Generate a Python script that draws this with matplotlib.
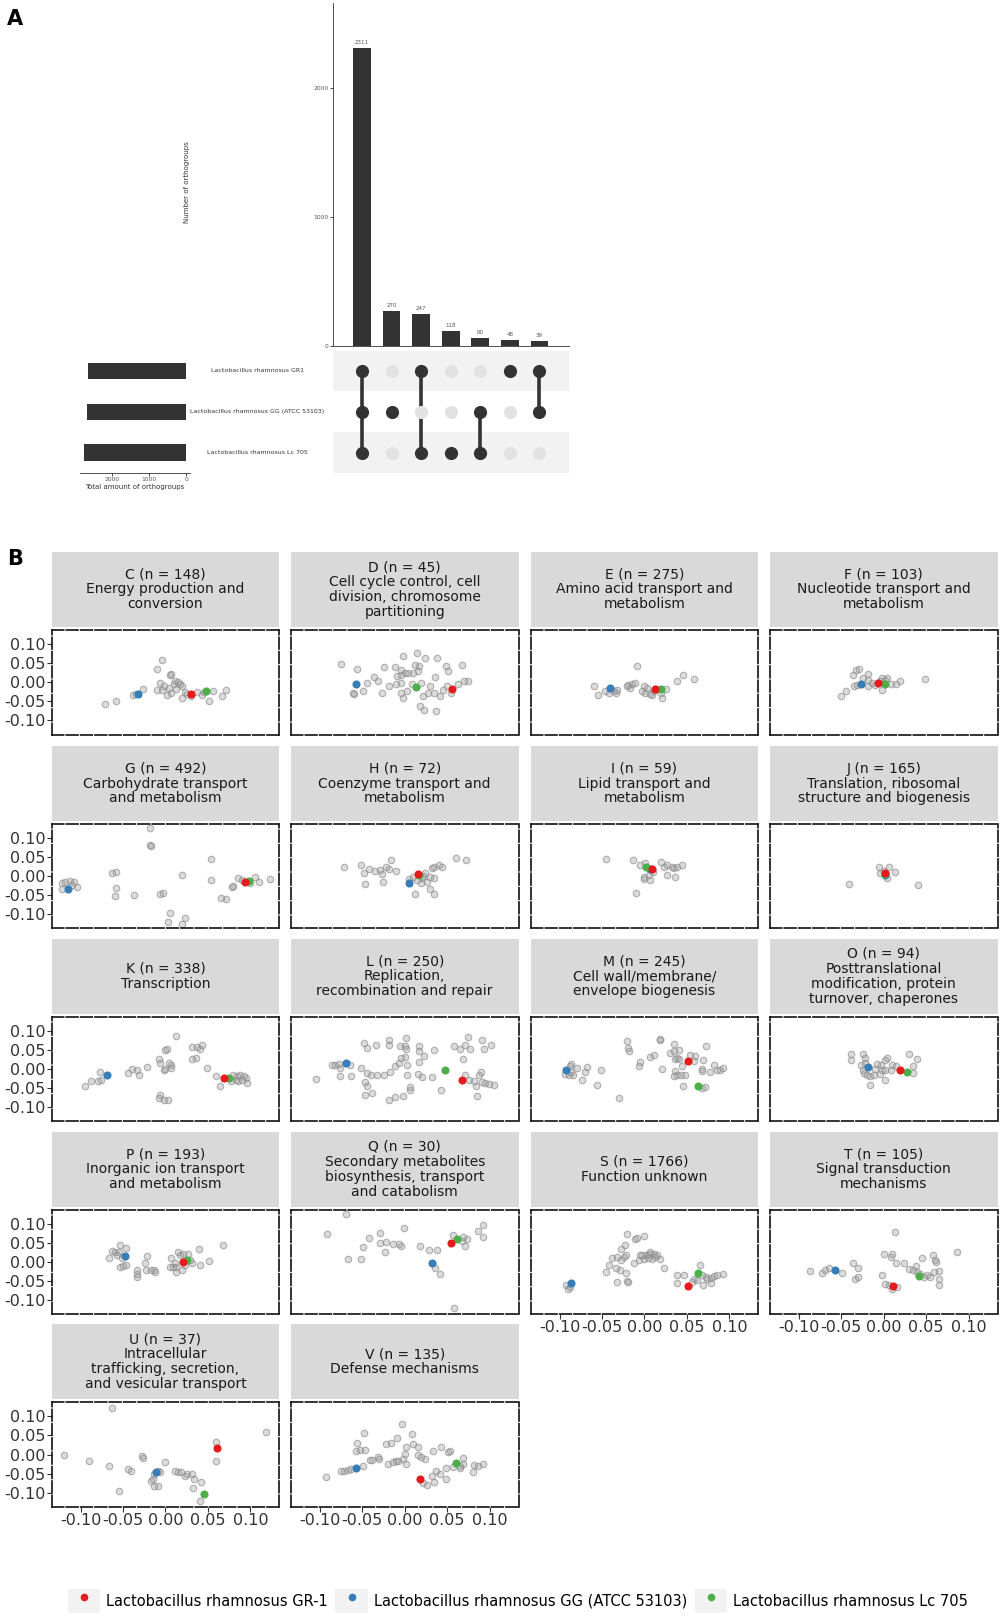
import matplotlib
matplotlib.use('Agg')
import matplotlib.pyplot as plt
from matplotlib.lines import Line2D
from matplotlib.patches import Patch
from matplotlib.legend_handler import HandlerTuple
import numpy as np

plt.rcParams['font.family'] = ['DejaVu Sans']
plt.rcParams['axes.unicode_minus'] = False

W, H = 1000, 1619

# ---------------- panel A : upset data ----------------
inter_counts = [2311, 270, 247, 118, 60, 48, 39]
set_names = ['Lactobacillus rhamnosus GR1',
             'Lactobacillus rhamnosus GG (ATCC 53103)',
             'Lactobacillus rhamnosus Lc 705']
set_sizes = [2645, 2680, 2736]
# membership per intersection column: (GR1, GG, Lc 705)
inter_members = [[1, 1, 1], [0, 1, 0], [1, 0, 1], [0, 0, 1],
                 [0, 1, 1], [1, 0, 0], [1, 1, 0]]
count_ticks = [0, 1000, 2000]
size_ticks = [2000, 1000, 0]

# ---------------- panel B : COG category scatter ----------------
cog_codes = ['C', 'D', 'E', 'F', 'G', 'H', 'I', 'J', 'K', 'L', 'M', 'O',
             'P', 'Q', 'S', 'T', 'U', 'V']
cog_n = [148, 45, 275, 103, 492, 72, 59, 165, 338, 250, 245, 94,
         193, 30, 1766, 105, 37, 135]
cog_desc = ['Energy production and\nconversion',
            'Cell cycle control, cell\ndivision, chromosome\npartitioning',
            'Amino acid transport and\nmetabolism',
            'Nucleotide transport and\nmetabolism',
            'Carbohydrate transport\nand metabolism',
            'Coenzyme transport and\nmetabolism',
            'Lipid transport and\nmetabolism',
            'Translation, ribosomal\nstructure and biogenesis',
            'Transcription',
            'Replication,\nrecombination and repair',
            'Cell wall/membrane/\nenvelope biogenesis',
            'Posttranslational\nmodification, protein\nturnover, chaperones',
            'Inorganic ion transport\nand metabolism',
            'Secondary metabolites\nbiosynthesis, transport\nand catabolism',
            'Function unknown',
            'Signal transduction\nmechanisms',
            'Intracellular\ntrafficking, secretion,\nand vesicular transport',
            'Defense mechanisms']
axis_ticks = [-0.10, -0.05, 0.00, 0.05, 0.10]

gray_C = [(-0.071, -0.056), (-0.058, -0.048), (-0.038, -0.034), (-0.027, -0.019), (-0.035, -0.031),
          (-0.004, 0.058), (-0.010, 0.035), (0.005, 0.019), (0.006, 0.021), (-0.007, -0.001),
          (-0.002, -0.009), (0.011, 0.002), (0.017, -0.004), (0.004, -0.015), (0.007, -0.028),
          (0.013, -0.019), (0.019, -0.010), (-0.004, -0.021), (-0.010, -0.021), (0.023, -0.026),
          (0.002, -0.033), (0.025, -0.030), (0.020, -0.042), (0.037, -0.026), (0.043, -0.033),
          (0.051, -0.050), (0.056, -0.024), (0.067, -0.035), (0.071, -0.021), (0.010, -0.005),
          (0.015, 0.000), (0.030, -0.036), (0.045, -0.025)]
gray_D = [(-0.075, 0.049), (-0.056, 0.036), (-0.061, -0.028), (-0.060, -0.031), (-0.049, -0.022),
          (-0.045, -0.002), (-0.036, 0.013), (-0.031, 0.003), (-0.027, -0.028), (-0.025, 0.040),
          (-0.018, -0.011), (-0.011, 0.040), (-0.005, 0.033), (0.000, 0.025), (-0.009, 0.016),
          (-0.004, 0.020), (0.004, 0.023), (0.010, 0.025), (0.016, 0.029), (0.017, 0.042),
          (0.012, 0.046), (-0.010, -0.004), (-0.005, -0.003), (-0.002, 0.070), (0.015, 0.077),
          (0.024, 0.064), (0.038, 0.064), (-0.004, -0.028), (0.003, -0.024), (-0.002, -0.041),
          (0.019, -0.002), (0.021, -0.037), (0.018, -0.061), (0.023, -0.072), (0.037, -0.076),
          (0.027, -0.028), (0.034, -0.028), (0.036, 0.013), (0.042, -0.037), (0.049, 0.042),
          (0.051, 0.029), (0.063, -0.004), (0.068, 0.044), (0.055, -0.028), (0.050, -0.010),
          (0.070, 0.003), (0.075, 0.002), (0.008, -0.005), (0.030, -0.010), (0.045, -0.020)]
gray_E = [(-0.059, -0.009), (-0.055, -0.034), (-0.046, -0.022), (-0.042, -0.027), (-0.036, -0.024),
          (-0.032, -0.021), (-0.034, -0.028), (-0.019, -0.006), (-0.015, -0.004), (-0.011, -0.003),
          (-0.017, -0.015), (-0.021, -0.010), (-0.009, 0.042), (-0.003, -0.024), (0.001, -0.028),
          (0.007, -0.032), (0.011, -0.024), (0.014, -0.019), (0.003, -0.015), (-0.001, -0.010),
          (0.019, -0.028), (0.025, -0.019), (0.009, -0.034), (0.021, -0.041), (0.038, 0.003),
          (0.046, 0.018), (0.058, 0.009)]
gray_F = [(-0.050, -0.035), (-0.045, -0.024), (-0.035, -0.010), (-0.032, -0.007), (-0.036, 0.018),
          (-0.033, 0.033), (-0.029, 0.036), (-0.025, 0.011), (-0.019, 0.022), (-0.018, 0.007),
          (-0.014, -0.002), (-0.018, -0.010), (-0.010, -0.006), (0.004, 0.011), (0.002, 0.007),
          (-0.002, 0.011), (-0.002, -0.021), (0.008, -0.004), (0.014, -0.004), (0.019, 0.003),
          (0.049, 0.009), (-0.005, 0.004)]
gray_G = [(-0.122, -0.019), (-0.118, -0.014), (-0.112, -0.012), (-0.108, -0.014), (-0.104, -0.027),
          (-0.122, -0.033), (-0.110, -0.023), (-0.018, 0.126), (-0.018, 0.082), (-0.017, 0.080),
          (-0.063, 0.008), (-0.058, 0.010), (-0.058, -0.030), (-0.059, -0.051), (-0.037, -0.049),
          (-0.007, -0.047), (-0.003, -0.045), (0.020, 0.004), (0.005, -0.096), (0.003, -0.119),
          (0.023, -0.110), (0.020, -0.124), (0.054, 0.046), (0.054, -0.011), (0.065, -0.058),
          (0.071, -0.060), (0.078, -0.027), (0.080, -0.025), (0.085, -0.004), (0.106, -0.003),
          (0.110, -0.016), (0.123, -0.007), (0.090, -0.010), (0.100, -0.018)]
gray_H = [(-0.071, 0.025), (-0.051, 0.030), (-0.048, 0.008), (-0.047, -0.020), (-0.042, 0.019),
          (-0.035, 0.015), (-0.029, 0.017), (-0.027, 0.005), (-0.026, -0.014), (-0.022, 0.025),
          (-0.016, 0.043), (-0.018, 0.018), (-0.010, 0.015), (0.010, -0.001), (0.020, -0.005),
          (0.024, 0.008), (0.030, -0.001), (0.034, 0.025), (0.032, 0.021), (0.040, 0.030),
          (0.044, 0.025), (0.026, -0.014), (0.019, -0.018), (0.014, -0.010), (0.034, -0.005),
          (0.012, -0.047), (0.030, -0.033), (0.034, -0.047), (0.060, 0.049), (0.072, 0.043),
          (0.005, -0.008), (0.022, 0.000)]
gray_I = [(-0.045, 0.046), (-0.013, 0.043), (-0.005, 0.030), (0.001, 0.034), (-0.001, -0.001),
          (0.005, 0.004), (0.007, -0.010), (0.000, -0.007), (0.020, 0.037), (0.026, 0.030),
          (0.032, 0.025), (0.038, 0.023), (0.044, 0.030), (0.023, 0.023), (0.035, 0.021),
          (0.026, 0.004), (0.036, -0.001), (-0.010, -0.045), (0.010, 0.010)]
gray_J = [(-0.041, -0.020), (0.040, -0.023), (-0.006, 0.023), (0.006, 0.023), (0.013, 0.011),
          (-0.004, 0.008), (0.004, -0.004), (0.000, 0.015)]
gray_K = [(-0.095, -0.046), (-0.088, -0.032), (-0.080, -0.031), (-0.076, -0.028), (-0.077, -0.009),
          (-0.044, -0.010), (-0.039, 0.000), (-0.034, -0.004), (-0.031, -0.015), (-0.022, 0.005),
          (-0.008, 0.025), (-0.006, 0.016), (-0.002, -0.002), (0.000, -0.001), (0.006, 0.011),
          (0.006, 0.003), (0.004, 0.016), (0.000, 0.049), (0.002, 0.053), (0.013, 0.086),
          (-0.007, -0.068), (-0.008, -0.076), (-0.002, -0.081), (0.003, -0.082), (0.031, 0.058),
          (0.037, 0.058), (0.043, 0.063), (0.041, 0.051), (0.036, 0.029), (0.031, 0.025),
          (0.049, 0.003), (0.059, -0.019), (0.064, -0.044), (0.080, -0.017), (0.084, -0.019),
          (0.088, -0.015), (0.092, -0.019), (0.095, -0.023), (0.083, -0.028), (0.086, -0.032),
          (0.090, -0.028), (0.096, -0.037), (0.077, -0.032)]
gray_L = [(-0.105, -0.026), (-0.086, 0.010), (-0.082, 0.011), (-0.078, 0.014), (-0.076, 0.003),
          (-0.076, -0.019), (-0.065, 0.010), (-0.063, -0.019), (-0.051, 0.003), (-0.045, -0.011),
          (-0.047, -0.033), (-0.045, -0.044), (-0.048, 0.068), (-0.045, 0.055), (-0.034, 0.064),
          (-0.019, 0.077), (-0.019, 0.064), (0.002, 0.081), (-0.006, 0.060), (0.000, 0.060),
          (0.002, 0.051), (-0.040, -0.015), (-0.033, -0.015), (-0.025, -0.015), (-0.017, -0.009),
          (-0.011, 0.007), (-0.007, 0.016), (-0.005, 0.029), (0.000, 0.031), (0.003, 0.011),
          (0.003, -0.015), (-0.047, -0.068), (-0.039, -0.063), (-0.019, -0.082), (-0.011, -0.074),
          (-0.002, -0.070), (0.006, -0.054), (0.006, -0.047), (0.017, 0.061), (0.017, 0.046),
          (0.023, 0.035), (0.034, 0.049), (0.017, 0.018), (0.016, -0.013), (0.020, -0.022),
          (0.032, -0.022), (0.043, -0.054), (0.058, 0.059), (0.065, 0.053), (0.071, 0.064),
          (0.075, 0.084), (0.077, 0.051), (0.091, 0.077), (0.093, 0.051), (0.102, 0.064),
          (0.069, 0.026), (0.071, -0.015), (0.076, -0.028), (0.082, -0.032), (0.084, -0.044),
          (0.088, -0.015), (0.090, -0.009), (0.091, -0.035), (0.095, -0.037), (0.099, -0.039),
          (0.105, -0.041), (0.085, -0.070)]
gray_M = [(-0.094, -0.013), (-0.089, -0.015), (-0.086, -0.009), (-0.084, -0.015), (-0.086, 0.014),
          (-0.080, 0.003), (-0.088, 0.007), (-0.074, -0.028), (-0.070, -0.009), (-0.068, 0.005),
          (-0.056, -0.041), (-0.051, -0.002), (-0.030, -0.077), (-0.021, 0.073), (-0.019, 0.056),
          (-0.018, 0.047), (-0.007, 0.007), (-0.005, 0.018), (0.007, 0.031), (0.011, 0.037),
          (0.018, 0.075), (0.018, 0.079), (0.021, 0.000), (0.030, 0.042), (0.035, 0.047),
          (0.041, 0.049), (0.038, 0.029), (0.036, 0.025), (0.041, 0.025), (0.035, 0.065),
          (0.054, 0.037), (0.059, 0.033), (0.058, 0.020), (0.069, 0.023), (0.073, 0.061),
          (0.068, 0.000), (0.068, -0.006), (0.082, 0.010), (0.086, -0.004), (0.089, -0.002),
          (0.093, 0.003), (0.077, -0.009), (0.036, -0.006), (0.038, -0.015), (0.035, -0.018),
          (0.043, -0.015), (0.048, -0.015), (0.044, 0.007), (0.046, -0.044), (0.068, -0.050),
          (0.071, -0.048)]
gray_O = [(-0.038, 0.040), (-0.039, 0.023), (-0.024, 0.038), (-0.022, 0.029), (-0.027, 0.011),
          (-0.025, -0.002), (-0.023, -0.010), (-0.020, -0.015), (-0.016, -0.019), (-0.012, -0.015),
          (-0.022, 0.015), (-0.016, -0.042), (-0.008, 0.014), (-0.003, 0.011), (0.002, 0.023),
          (0.004, 0.029), (-0.002, -0.002), (0.002, -0.002), (0.010, 0.011), (0.014, 0.007),
          (0.008, -0.002), (0.001, -0.028), (0.030, 0.038), (0.039, 0.026), (0.034, 0.007),
          (0.035, -0.010), (-0.010, 0.000), (-0.005, -0.012)]
gray_P = [(-0.067, 0.011), (-0.063, 0.028), (-0.059, 0.025), (-0.055, 0.026), (-0.053, 0.044),
          (-0.046, 0.037), (-0.057, 0.018), (-0.051, 0.011), (-0.054, -0.013), (-0.050, -0.011),
          (-0.046, -0.009), (-0.034, -0.020), (-0.034, -0.031), (-0.034, -0.039), (-0.022, 0.015),
          (-0.024, -0.004), (-0.023, -0.022), (-0.017, -0.022), (-0.014, -0.022), (-0.012, -0.026),
          (0.007, 0.011), (0.011, -0.004), (0.013, -0.013), (0.015, 0.026), (0.017, 0.018),
          (0.009, -0.013), (0.005, -0.013), (0.013, -0.026), (0.019, -0.022), (0.023, -0.009),
          (0.021, 0.022), (0.027, 0.022), (0.031, -0.004), (0.029, 0.004), (0.039, 0.035),
          (0.041, -0.009), (0.051, 0.003), (0.068, 0.044)]
gray_Q = [(-0.092, 0.072), (-0.069, 0.125), (-0.067, 0.007), (-0.051, 0.007), (-0.049, 0.038),
          (-0.042, 0.063), (-0.029, 0.077), (-0.029, 0.050), (-0.022, 0.053), (-0.014, 0.046),
          (-0.007, 0.046), (-0.004, 0.041), (-0.023, 0.026), (-0.001, 0.089), (0.018, 0.041),
          (0.029, 0.031), (0.038, 0.031), (0.036, -0.016), (0.041, -0.032), (0.057, 0.070),
          (0.069, 0.066), (0.073, 0.061), (0.067, 0.055), (0.071, 0.041), (0.086, 0.082),
          (0.092, 0.096), (0.092, 0.065), (0.058, -0.121)]
gray_S = [(-0.092, -0.060), (-0.090, -0.072), (-0.088, -0.066), (-0.045, -0.026), (-0.042, -0.009),
          (-0.038, 0.010), (-0.032, 0.013), (-0.028, 0.004), (-0.028, 0.033), (-0.023, 0.045),
          (-0.020, 0.074), (-0.033, -0.016), (-0.029, -0.022), (-0.022, -0.029), (-0.032, -0.053),
          (-0.021, -0.049), (-0.019, -0.053), (-0.024, 0.013), (-0.022, 0.018), (-0.011, 0.061),
          (-0.009, 0.063), (-0.001, 0.068), (-0.012, -0.002), (-0.006, 0.004), (-0.003, 0.018),
          (0.002, 0.018), (0.005, 0.022), (0.007, 0.026), (0.011, 0.022), (0.015, 0.019),
          (0.018, 0.009), (0.009, 0.007), (0.013, 0.013), (-0.005, 0.018), (0.000, 0.009),
          (0.004, 0.011), (0.023, -0.016), (0.038, -0.033), (0.038, -0.055), (0.047, -0.035),
          (0.066, -0.007), (0.058, -0.044), (0.062, -0.048), (0.068, -0.035), (0.072, -0.039),
          (0.078, -0.042), (0.082, -0.037), (0.086, -0.035), (0.092, -0.031), (0.069, -0.061),
          (0.078, -0.055), (0.056, -0.053), (0.074, -0.044)]
gray_T = [(-0.087, -0.025), (-0.073, -0.028), (-0.069, -0.022), (-0.065, -0.016), (-0.049, -0.028),
          (-0.036, -0.004), (-0.034, -0.046), (-0.030, -0.039), (-0.030, -0.016), (-0.002, -0.033),
          (0.000, 0.022), (0.010, 0.022), (0.008, 0.013), (0.013, 0.079), (0.015, -0.004),
          (0.024, -0.004), (0.002, -0.057), (0.006, -0.061), (0.010, -0.072), (0.016, -0.066),
          (0.030, -0.018), (0.034, -0.022), (0.038, -0.011), (0.039, -0.026), (0.043, -0.031),
          (0.047, -0.039), (0.051, -0.035), (0.055, -0.039), (0.059, -0.026), (0.045, 0.011),
          (0.058, 0.018), (0.060, 0.004), (0.061, 0.000), (0.065, -0.025), (0.065, -0.046),
          (0.065, -0.061), (0.086, 0.025)]
gray_U = [(-0.119, 0.000), (-0.090, -0.018), (-0.067, -0.029), (-0.063, 0.121), (-0.055, -0.095),
          (-0.044, -0.038), (-0.041, -0.044), (-0.028, -0.004), (-0.026, -0.009), (-0.017, -0.070),
          (-0.014, -0.082), (-0.009, -0.082), (-0.015, -0.063), (-0.009, -0.042), (-0.013, -0.051),
          (-0.007, -0.046), (0.000, -0.020), (0.011, -0.044), (0.015, -0.046), (0.018, -0.046),
          (0.023, -0.055), (0.025, -0.051), (0.031, -0.051), (0.034, -0.064), (0.033, -0.089),
          (0.042, -0.073), (0.041, -0.121), (0.060, 0.034), (0.060, -0.016), (0.119, 0.059)]
gray_V = [(-0.093, -0.058), (-0.075, -0.044), (-0.071, -0.042), (-0.067, -0.040), (-0.063, -0.039),
          (-0.057, 0.010), (-0.053, 0.011), (-0.047, 0.011), (-0.056, 0.030), (-0.048, 0.056),
          (-0.049, -0.029), (-0.041, -0.014), (-0.038, -0.014), (-0.032, -0.007), (-0.030, -0.011),
          (-0.020, -0.025), (-0.014, -0.020), (-0.010, -0.016), (-0.008, -0.016), (-0.022, 0.028),
          (-0.016, 0.030), (-0.009, 0.044), (-0.003, 0.081), (0.000, 0.002), (0.001, 0.021),
          (-0.002, -0.011), (0.001, -0.026), (0.008, 0.054), (0.010, 0.028), (0.016, 0.021),
          (0.016, 0.000), (0.019, -0.007), (0.024, -0.011), (0.033, 0.009), (0.037, -0.042),
          (0.043, 0.019), (0.049, -0.035), (0.051, 0.006), (0.053, 0.009), (0.022, -0.075),
          (0.026, -0.079), (0.032, -0.055), (0.035, -0.073), (0.041, -0.051), (0.049, -0.064),
          (0.057, -0.033), (0.065, -0.029), (0.069, -0.009), (0.069, -0.025), (0.065, -0.035),
          (0.081, -0.027), (0.086, -0.029), (0.092, -0.026), (0.080, -0.046)]

# highlighted strains, one point per panel (same order as cog_codes)
red_pts = [(0.030, -0.031), (0.056, -0.018), (0.013, -0.018), (-0.007, -0.002), (0.094, -0.016),
           (0.016, 0.005), (0.009, 0.019), (0.002, 0.008), (0.069, -0.025), (0.068, -0.030),
           (0.051, 0.020), (0.019, -0.004), (0.021, 0.000), (0.054, 0.050), (0.051, -0.063),
           (0.011, -0.063), (0.061, 0.018), (0.018, -0.064)]
blue_pts = [(-0.032, -0.030), (-0.058, -0.004), (-0.040, -0.015), (-0.027, -0.004), (-0.115, -0.033),
            (0.005, -0.017), (0.006, 0.020), (0.001, 0.002), (-0.069, -0.015), (-0.069, 0.016),
            (-0.092, -0.002), (-0.018, 0.004), (-0.048, 0.015), (0.032, -0.002), (-0.086, -0.055),
            (-0.057, -0.020), (-0.011, -0.046), (-0.058, -0.035)]
green_pts = [(0.048, -0.022), (0.013, -0.012), (0.019, -0.019), (0.001, -0.004), (0.099, -0.012),
             (0.017, 0.004), (0.002, 0.023), (0.002, 0.006), (0.075, -0.024), (0.047, -0.004),
             (0.063, -0.044), (0.027, -0.007), (0.025, 0.006), (0.062, 0.060), (0.063, -0.028),
             (0.042, -0.037), (0.045, -0.104), (0.060, -0.023)]
strain_labels = ['Lactobacillus rhamnosus GR-1',
                 'Lactobacillus rhamnosus GG (ATCC 53103)',
                 'Lactobacillus rhamnosus Lc 705']
strain_colors = ['#e41a1c', '#377eb8', '#4daf4a']

panel_gray = [gray_C, gray_D, gray_E, gray_F, gray_G, gray_H, gray_I, gray_J, gray_K,
              gray_L, gray_M, gray_O, gray_P, gray_Q, gray_S, gray_T, gray_U, gray_V]

fig = plt.figure(figsize=(W / 100, H / 100), dpi=100)


def px_axes(x0, y0, w, h):
    return fig.add_axes([x0 / W, 1 - (y0 + h) / H, w / W, h / H])


dark = '#333333'
light_dot = '#e2e2e2'

# ---------------- panel A ----------------
fig.text(7 / W, 1 - 19 / H, 'A', fontsize=15, fontweight='bold', va='center', ha='left')

xpos = np.arange(1, len(inter_counts) + 1)
ax_bar = px_axes(333, 3, 236, 342.7)
ax_bar.bar(xpos, inter_counts, width=0.6, color=dark)
for x, v in zip(xpos, inter_counts):
    ax_bar.annotate(str(v), (x, v), xytext=(0, 2), textcoords='offset points',
                    ha='center', va='bottom', fontsize=4, color='#555555')
ax_bar.set_xlim(0.02, 8.0)
ax_bar.set_ylim(0, 2661)
ax_bar.set_xticks([])
ax_bar.set_yticks(count_ticks)
ax_bar.tick_params(axis='y', labelsize=4.3, labelcolor='#555555', length=2, width=0.5, pad=1)
for s in ['top', 'right']:
    ax_bar.spines[s].set_visible(False)
for s in ['left', 'bottom']:
    ax_bar.spines[s].set_linewidth(0.6)
    ax_bar.spines[s].set_color(dark)
fig.text(187 / W, 1 - 182.5 / H, 'Number of orthogroups', rotation=90,
         fontsize=5, ha='center', va='center', color='#333333')

ax_mat = px_axes(333, 350.5, 236, 122.5)
ax_mat.set_xlim(0.02, 8.0)
ax_mat.set_ylim(-0.5, 2.5)
ax_mat.axhspan(1.5, 2.5, color='#f2f2f2', lw=0)
ax_mat.axhspan(-0.5, 0.5, color='#f2f2f2', lw=0)
row_y = [2, 1, 0]
for j, members in enumerate(inter_members):
    x = xpos[j]
    ys = [row_y[i] for i in range(3) if members[i]]
    if len(ys) > 1:
        ax_mat.plot([x, x], [min(ys), max(ys)], color=dark, lw=2.6, zorder=2)
    for i in range(3):
        ax_mat.scatter(x, row_y[i], s=90, color=dark if members[i] else light_dot,
                       zorder=3, lw=0)
ax_mat.axis('off')

ax_set = px_axes(79.6, 350.5, 110.9, 122.5)
ax_set.barh(row_y, set_sizes, height=0.4, color=dark)
ax_set.set_xlim(2866, -116)
ax_set.set_ylim(-0.5, 2.5)
ax_set.set_yticks([])
ax_set.set_xticks(size_ticks)
ax_set.tick_params(axis='x', labelsize=4.3, labelcolor='#555555', length=2, width=0.5, pad=1)
for s in ['top', 'right', 'left']:
    ax_set.spines[s].set_visible(False)
ax_set.spines['bottom'].set_linewidth(0.6)
ax_set.spines['bottom'].set_color(dark)
ax_set.set_xlabel('Total amount of orthogroups', fontsize=5, labelpad=1, color='#333333')
for name, yv in zip(set_names, row_y):
    ax_set.text(1.6, yv, name, transform=ax_set.get_yaxis_transform(), fontsize=4.5,
                ha='center', va='center', color='#333333')

# ---------------- panel B ----------------
fig.text(7 / W, 1 - 559 / H, 'B', fontsize=15, fontweight='bold', va='center', ha='left')

col_x = [51.7, 291.0, 530.7, 770.0]
row_top = [630.0, 824.0, 1016.7, 1209.7, 1402.3]
pw, ph = 227.5, 104.5
strip_h, strip_gap = 75.0, 3.0
bottom_panels = {'S', 'T', 'U', 'V'}

for k, code in enumerate(cog_codes):
    r, c = divmod(k, 4)
    x0, y0 = col_x[c], row_top[r]

    ax_s = px_axes(x0, y0 - strip_gap - strip_h, pw, strip_h)
    ax_s.set_facecolor('#d9d9d9')
    ax_s.set_xticks([])
    ax_s.set_yticks([])
    for s in ax_s.spines.values():
        s.set_visible(False)
    ax_s.text(0.5, 0.5, '%s (n = %d)\n%s' % (code, cog_n[k], cog_desc[k]),
              ha='center', va='center', fontsize=10, linespacing=1.08,
              color='#1a1a1a', transform=ax_s.transAxes)

    ax = px_axes(x0, y0, pw, ph)
    pts = np.array(panel_gray[k])
    ax.scatter(pts[:, 0], pts[:, 1], s=22, facecolor=(0.6, 0.6, 0.6, 0.35),
               edgecolor=(0.55, 0.55, 0.55, 0.65), lw=0.8, zorder=2)
    for pts_h, col in [(blue_pts, strain_colors[1]), (green_pts, strain_colors[2]),
                       (red_pts, strain_colors[0])]:
        ax.scatter(pts_h[k][0], pts_h[k][1], s=34, color=col, lw=0, zorder=3)
    ax.set_xlim(-0.134, 0.134)
    ax.set_ylim(-0.137, 0.137)
    for s in ax.spines.values():
        s.set_linestyle((0, (7, 1.6)))
        s.set_linewidth(1.2)
        s.set_color('#111111')
    ax.set_xticks(axis_ticks)
    ax.set_yticks(axis_ticks)
    ax.tick_params(length=3.5, width=0.8, color='#333333', labelsize=11.5,
                   labelcolor='#333333', pad=1)
    if c == 0:
        ax.set_yticklabels(['%.2f' % t for t in axis_ticks])
    else:
        ax.tick_params(axis='y', left=False, labelleft=False)
    if code in bottom_panels:
        ax.set_xticklabels(['%.2f' % t for t in axis_ticks])
    else:
        ax.tick_params(axis='x', bottom=False, labelbottom=False)

# legend: grey key box with the coloured dot on top
handles = [(Patch(facecolor='#f2f2f2', edgecolor='none'),
            Line2D([], [], marker='o', ls='', color=col, markersize=4.5))
           for col in strain_colors]
fig.legend(handles, strain_labels, ncol=3, loc='center',
           bbox_to_anchor=(0.518, 1 - 1601 / H), frameon=False, fontsize=10.5,
           handlelength=2.2, handleheight=2.1, handletextpad=0.45, columnspacing=0.5,
           handler_map={tuple: HandlerTuple(ndivide=1, pad=0)})

fig.savefig('out.png', dpi=100)
